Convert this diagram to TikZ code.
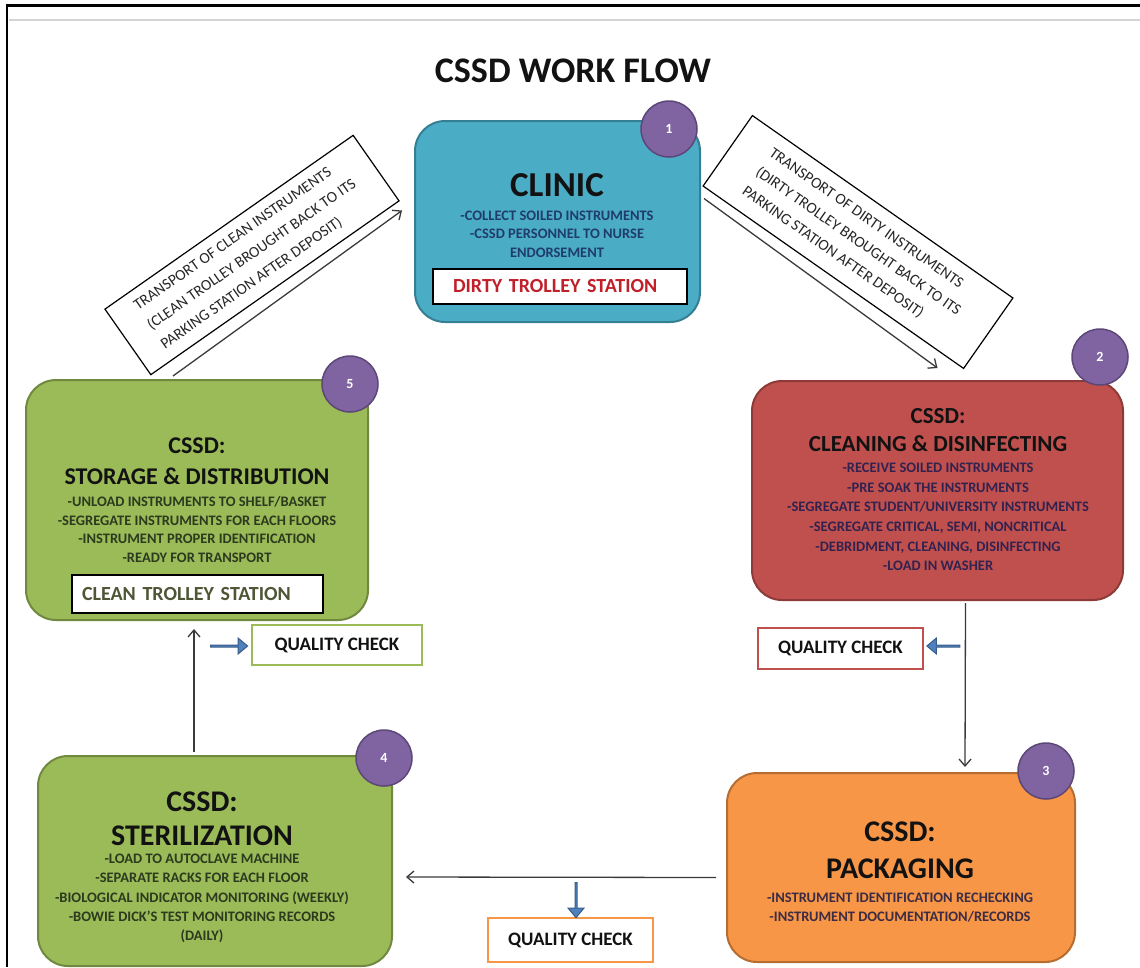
\documentclass[tikz,border=0pt]{standalone}
\usepackage{fontspec}
\setmainfont{Carlito}
\usetikzlibrary{shapes.arrows,arrows.meta}

\definecolor{tealfill}{HTML}{4BACC6}
\definecolor{tealline}{HTML}{357F93}
\definecolor{redfill}{HTML}{C0504D}
\definecolor{redline}{HTML}{8E3A38}
\definecolor{orfill}{HTML}{F79646}
\definecolor{orline}{HTML}{B66D31}
\definecolor{grfill}{HTML}{9BBB59}
\definecolor{grline}{HTML}{71893F}
\definecolor{purfill}{HTML}{8064A2}
\definecolor{purline}{HTML}{5C4776}
\definecolor{bluefill}{HTML}{4F81BD}
\definecolor{blueline}{HTML}{385D8A}
\definecolor{headc}{HTML}{121212}
\definecolor{navy}{HTML}{1F3D6B}
\definecolor{plum}{HTML}{33224F}
\definecolor{olive}{HTML}{2C3A1E}
\definecolor{dkplum}{HTML}{3C2C44}
\definecolor{dirtyred}{HTML}{C0202A}
\definecolor{cleangray}{HTML}{4E5636}
\definecolor{arrowc}{HTML}{3A3A3A}
\definecolor{rulegray}{HTML}{D4D4D4}

\tikzset{
  stage/.style={rounded corners=30pt, line width=2pt, inner sep=0pt},
  badge/.style={circle, fill=purfill, draw=purline, line width=1.5pt,
    minimum size=56pt, inner sep=0pt, text=white,
    font=\bfseries\fontsize{14}{14}\selectfont},
  head/.style 2 args={text=headc, align=center, inner sep=0pt,
    font=\bfseries\fontsize{#1}{#2}\selectfont},
  item/.style={align=center, inner sep=0pt,
    font=\bfseries\fontsize{14.5}{#1}\selectfont},
  item/.default=19,
  station/.style={draw=black, fill=white, line width=1.5pt, align=left,
    inner ysep=0pt, font=\bfseries\fontsize{20}{20}\selectfont},
  qcbox/.style={fill=white, line width=2pt, minimum width=165pt,
    minimum height=41pt, inner sep=0pt, text=headc,
    font=\bfseries\fontsize{19}{19}\selectfont},
  bluearrow/.style={single arrow, fill=bluefill, draw=blueline,
    line width=1pt, minimum width=16pt, single arrow head extend=3.5pt,
    single arrow tip angle=80, inner sep=0pt},
  transport/.style={draw=black, fill=white, line width=1.2pt, align=left,
    inner sep=0pt, text=black!85, font=\fontsize{15.5}{23.5}\selectfont},
  flow/.style={draw=arrowc, line width=1.3pt,
    -{Straight Barb[length=7pt, width=12pt]}}
}

\begin{document}
\begin{tikzpicture}[x=1pt, y=-1pt]
\useasboundingbox (0,0) rectangle (1140,967);

% page frame
\draw[rulegray, line width=2pt] (9,20) -- (1140,20);
\draw[black, line width=3pt] (5.75,5) -- (1140,5);
\draw[black, line width=2.5pt] (7,3.5) -- (7,967);

% title
\node[head={36}{36}] (title) at (573,71) {CSSD WORK FLOW};

% 1 -- clinic
\node[stage, fill=tealfill, draw=tealline, minimum width=285pt, minimum height=201pt] (clinic) at (557.5,221.5) {};
\node[badge] (b1) at (669,129) {1};
\node[head={35}{35}] (clinicT) at (557,185) {CLINIC};
\node[item=18.5, text=navy] (clinicI) at (557,234) {-COLLECT SOILED INSTRUMENTS\\-CSSD PERSONNEL TO NURSE\\ENDORSEMENT};
\node[station, text=dirtyred, minimum height=35pt, inner xsep=20pt, text width=214pt] (dirty) at (560,286.5) {DIRTY TROLLEY STATION};

% 2 -- cleaning & disinfecting
\node[stage, fill=redfill, draw=redline, minimum width=371pt, minimum height=219pt] (clean) at (937.5,490.5) {};
\node[badge] (b2) at (1100,357) {2};
\node[head={23}{28}] (cleanT) at (938,430) {CSSD:\\CLEANING \& DISINFECTING};
\node[item=19.6, text=plum] (cleanI) at (938,517) {-RECEIVE SOILED INSTRUMENTS\\-PRE SOAK THE INSTRUMENTS\\-SEGREGATE STUDENT/UNIVERSITY INSTRUMENTS\\-SEGREGATE CRITICAL, SEMI, NONCRITICAL\\-DEBRIDMENT, CLEANING, DISINFECTING\\-LOAD IN WASHER};

% 3 -- packaging
\node[stage, fill=orfill, draw=orline, minimum width=348pt, minimum height=189pt] (pack) at (901,867.5) {};
\node[badge] (b3) at (1046,771) {3};
\node[head={30}{37}] (packT) at (900,850) {CSSD:\\PACKAGING};
\node[item, text=dkplum] (packI) at (900,907.5) {-INSTRUMENT IDENTIFICATION RECHECKING\\-INSTRUMENT DOCUMENTATION/RECORDS};

% 4 -- sterilization
\node[stage, fill=grfill, draw=grline, minimum width=354pt, minimum height=210pt] (steril) at (215,861) {};
\node[badge] (b4) at (384,758) {4};
\node[head={30}{34}] (sterilT) at (202,818.5) {CSSD:\\STERILIZATION};
\node[item=19.2, text=olive] (sterilI) at (202,898.5) {-LOAD TO AUTOCLAVE MACHINE\\-SEPARATE RACKS FOR EACH FLOOR\\-BIOLOGICAL INDICATOR MONITORING (WEEKLY)\\-BOWIE DICK'S TEST MONITORING RECORDS\\(DAILY)};

% 5 -- storage & distribution
\node[stage, fill=grfill, draw=grline, minimum width=342pt, minimum height=240pt] (store) at (197,500) {};
\node[badge] (b5) at (350,384) {5};
\node[head={24}{31}] (storeT) at (197,461) {CSSD:\\STORAGE \& DISTRIBUTION};
\node[item=18.5, text=olive] (storeI) at (197,529.5) {-UNLOAD INSTRUMENTS TO SHELF/BASKET\\-SEGREGATE INSTRUMENTS FOR EACH FLOORS\\-INSTRUMENT PROPER IDENTIFICATION\\-READY FOR TRANSPORT};
\node[station, text=cleangray, minimum height=38pt, inner xsep=10pt, text width=231pt] (cleanst) at (197.5,594) {CLEAN TROLLEY STATION};

% quality checks
\node[qcbox, draw=redfill] (qc2) at (840.5,648.5) {QUALITY CHECK};
\node[bluearrow, shape border rotate=180, minimum height=33pt] (qa2) at (944,646) {};
\node[qcbox, draw=orfill, minimum height=44pt] (qc3) at (570.5,940) {QUALITY CHECK};
\node[bluearrow, shape border rotate=270, minimum height=35pt] (qa3) at (576,899.5) {};
\node[qcbox, draw=grfill, minimum width=170pt, minimum height=40pt] (qc5) at (337,645) {QUALITY CHECK};
\node[bluearrow, minimum height=37pt] (qa5) at (228.5,646) {};

% transport notes
\node[transport, rotate=35, minimum width=303pt, minimum height=80pt] (tclean) at (252,255)
  {TRANSPORT OF CLEAN INSTRUMENTS\\(CLEAN TROLLEY BROUGHT BACK TO ITS\\PARKING STATION AFTER DEPOSIT)};
\node[transport, rotate=-35, minimum width=318pt, minimum height=86pt] (tdirty) at (858,242)
  {TRANSPORT OF DIRTY INSTRUMENTS\\(DIRTY TROLLEY BROUGHT BACK TO ITS\\PARKING STATION AFTER DEPOSIT)};

% work flow connectors
\draw[flow] ([shift={(3,-23)}]clinic.east) -- ([shift={(0,-12)}]clean.north);
\draw[flow] ([shift={(28,2)}]clean.south) -- ([shift={(64,-5)}]pack.north);
\draw[flow] ([shift={(-10,10)}]pack.west) -- ([shift={(13,16)}]steril.east);
\draw[flow] ([shift={(-21,-3)}]steril.north) -- ([shift={(-3,8)}]store.south);
\draw[flow] ([shift={(-24,-3)}]store.north) -- ([shift={(-12,-11)}]clinic.west);
\end{tikzpicture}
\end{document}
